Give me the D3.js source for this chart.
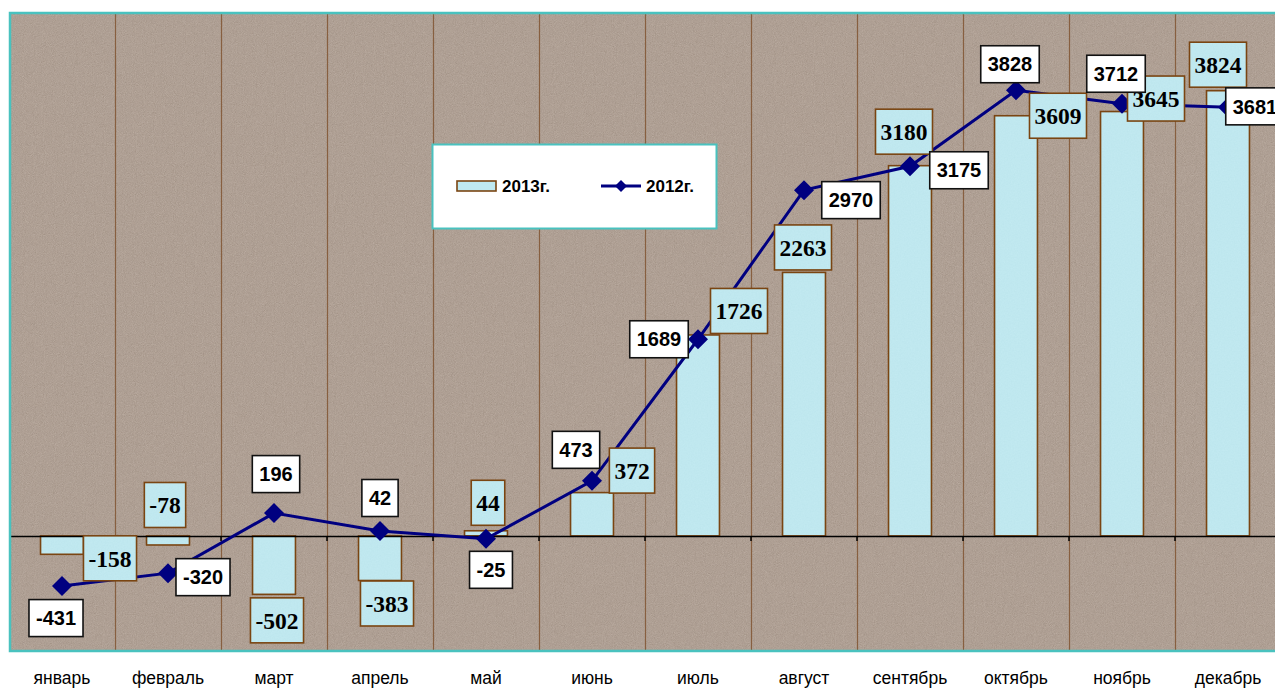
<!DOCTYPE html>
<html><head><meta charset="utf-8">
<script src="https://cdn.jsdelivr.net/npm/d3@7"></script>
<style>body{margin:0;background:#fff;overflow:hidden}svg{display:block}</style>
</head><body>
<svg id="c" width="1275" height="689"></svg>
<script>
// ---- data ----
const months = ["январь","февраль","март","апрель","май","июнь","июль","август","сентябрь","октябрь","ноябрь","декабрь"];
const values2013 = [-158,-78,-502,-383,44,372,1726,2263,3180,3609,3645,3824];
const values2012 = [-431,-320,196,42,-25,473,1689,2970,3175,3828,3712,3681];
const seriesNames = ["2013г.","2012г."];

// ---- layout (label placement offsets, px) ----
const barLabelOffsets = [[48,4],[-3,-40],[3,26],[7,23],[2,-28],[40,-22],[41,-24],[-1,-25],[-6,-34],[42,0],[34,-13],[-10,-26]];
const lineLabelOffsets = [[-6,32],[35,4],[2,-39],[0,-33],[5,31],[-16,-31],[-39,0],[47,10],[49,4],[-6,-26],[-6,-30],[27,-1]];

const svg = d3.select("#c");
const L = 9, R = 1281, T = 12, B = 650;
const x = d3.scaleBand().domain(months).range([L, R]).padding(0);
const y = d3.scaleLinear().domain([-980, 4500]).range([B, T]);
const bw = x.bandwidth()*0.405;
const cx = m => x(m) + x.bandwidth()/2;

const defs = svg.append("defs");
function grain(id, freq, seed, matrix){
  const f = defs.append("filter").attr("id",id).attr("x",0).attr("y",0).attr("width",1).attr("height",1);
  f.append("feTurbulence").attr("type","fractalNoise").attr("baseFrequency",freq).attr("numOctaves",2).attr("seed",seed).attr("result","t");
  f.append("feColorMatrix").attr("in","t").attr("type","matrix").attr("values",matrix).attr("result","n");
  f.append("feComposite").attr("in","n").attr("in2","SourceAlpha").attr("operator","in").attr("result","nc");
  const fm = f.append("feMerge"); fm.append("feMergeNode").attr("in","SourceGraphic"); fm.append("feMergeNode").attr("in","nc");
}
grain("grain",1.1,3,"0.45 0.3 0.2 0 0.1  0.4 0.3 0.2 0 0.05  0.35 0.3 0.2 0 0  0 0 0 0 0.25");
grain("grain2",0.7,7,"0.2 0.2 0.2 0 0.25  0.2 0.2 0.2 0 0.45  0.2 0.2 0.2 0 0.5  0 0 0 0 0.14");

// plot background
svg.append("rect").attr("x",L).attr("y",T).attr("width",R-L).attr("height",B-T)
  .attr("fill","#a6948a").attr("filter","url(#grain)");

// vertical gridlines at category boundaries
svg.append("g").selectAll("line").data(months.slice(1)).join("line")
  .attr("x1",d=>x(d)+0.5).attr("x2",d=>x(d)+0.5).attr("y1",T).attr("y2",B)
  .attr("stroke","#875f40").attr("stroke-width",1.2);

// bars
const barColor = "#bfe9f1", barStroke = "#7a4512";
const barG = svg.append("g");
const barRect = (sel)=>sel
  .attr("x",(d)=>cx(d)-bw/2)
  .attr("y",(d,i)=>Math.min(y(values2013[i]),y(0)))
  .attr("width",bw)
  .attr("height",(d,i)=>Math.abs(y(values2013[i])-y(0)));
barG.append("g").attr("filter","url(#grain2)").selectAll("rect").data(months).join("rect").call(barRect)
  .attr("fill",barColor);
barG.append("g").selectAll("rect").data(months).join("rect").call(barRect)
  .attr("fill","none").attr("stroke",barStroke).attr("stroke-width",1.6);

// zero axis with ticks
const ax = d3.axisBottom(x).tickSize(0).tickFormat("");
const axG = svg.append("g").attr("transform",`translate(0,${y(0)})`).call(ax);
axG.select(".domain").attr("stroke","#000").attr("stroke-width",1.5);
axG.selectAll("line.tk").data(months.slice(1)).join("line").attr("class","tk")
  .attr("x1",d=>x(d)).attr("x2",d=>x(d)).attr("y1",0).attr("y2",5).attr("stroke","#000").attr("stroke-width",1.5);

// plot border (teal)
svg.append("rect").attr("x",L+1).attr("y",T+1).attr("width",R-L).attr("height",B-T)
  .attr("fill","none").attr("stroke","#49c2bf").attr("stroke-width",2.5);

// 2012 line
const lineGen = d3.line().x((d,i)=>cx(months[i])).y(d=>y(d));
svg.append("path").datum(values2012).attr("d",lineGen)
  .attr("fill","none").attr("stroke","#000080").attr("stroke-width",3);
const diamond = (s)=>`M0,${-s}L${s},0L0,${s}L${-s},0Z`;
svg.append("g").selectAll("path").data(values2012).join("path")
  .attr("transform",(d,i)=>`translate(${cx(months[i])},${y(d)})`)
  .attr("d",diamond(10)).attr("fill","#000080");

// bar labels
const bl = svg.append("g");
values2013.forEach((v,i)=>{
  const m = months[i];
  const ax0 = cx(m) + barLabelOffsets[i][0];
  const ay0 = y(v) + barLabelOffsets[i][1];
  const g = bl.append("g").attr("transform",`translate(${ax0},${ay0})`);
  const t = g.append("text").text(v).attr("text-anchor","middle").attr("dy","0.35em")
    .attr("font-family","'Liberation Serif','Times New Roman',serif").attr("font-weight","bold").attr("font-size",23.5).attr("fill","#000");
  const w = t.node().getComputedTextLength()+10;
  g.insert("rect","text").attr("x",-w/2).attr("y",-22.5).attr("width",w).attr("height",45)
    .attr("fill",barColor).attr("filter","url(#grain2)");
  g.insert("rect","text").attr("x",-w/2).attr("y",-22.5).attr("width",w).attr("height",45)
    .attr("fill","none").attr("stroke",barStroke).attr("stroke-width",1.6);
});

// line labels
const ll = svg.append("g");
values2012.forEach((v,i)=>{
  const m = months[i];
  const ax0 = cx(m) + lineLabelOffsets[i][0];
  const ay0 = y(v) + lineLabelOffsets[i][1];
  const g = ll.append("g").attr("transform",`translate(${ax0},${ay0})`);
  const t = g.append("text").text(v).attr("text-anchor","middle").attr("dy","0.36em")
    .attr("font-family","'Liberation Sans',Arial,sans-serif").attr("font-weight","bold").attr("font-size",20).attr("fill","#000");
  const w = t.node().getComputedTextLength()+14;
  g.insert("rect","text").attr("x",-w/2).attr("y",-18.5).attr("width",w).attr("height",37)
    .attr("fill","#fff").attr("stroke","#111").attr("stroke-width",1.6);
});

// category labels
svg.append("g").selectAll("text").data(months).join("text")
  .attr("x",d=>cx(d)).attr("y",684).attr("text-anchor","middle")
  .attr("font-family","'Liberation Sans',Arial,sans-serif").attr("font-size",17.5).attr("fill","#000")
  .text(d=>d);

// legend
const lg = svg.append("g");
lg.append("rect").attr("x",432.5).attr("y",144.5).attr("width",284).attr("height",84)
  .attr("fill","#fff").attr("stroke","#49c2bf").attr("stroke-width",2);
lg.append("rect").attr("x",457).attr("y",181).attr("width",39).attr("height",10)
  .attr("fill",barColor).attr("stroke",barStroke).attr("stroke-width",1.6);
lg.append("text").attr("x",502).attr("y",192).text(seriesNames[0])
  .attr("font-family","'Liberation Sans',Arial,sans-serif").attr("font-weight","bold").attr("font-size",17);
lg.append("line").attr("x1",601).attr("x2",641).attr("y1",186).attr("y2",186).attr("stroke","#000080").attr("stroke-width",3);
lg.append("path").attr("transform","translate(621,186)").attr("d",diamond(6)).attr("fill","#000080");
lg.append("text").attr("x",646).attr("y",192).text(seriesNames[1])
  .attr("font-family","'Liberation Sans',Arial,sans-serif").attr("font-weight","bold").attr("font-size",17);
</script>
</body></html>
